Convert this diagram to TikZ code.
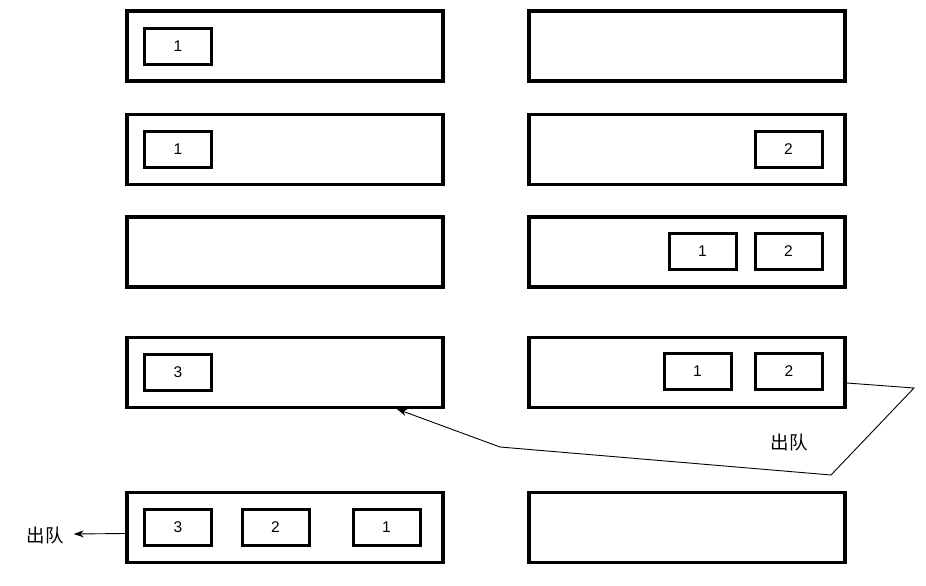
\documentclass[tikz,border=0pt]{standalone}
\usepackage{fontspec}
\setmainfont{Liberation Sans}
\newfontfamily\cjk{Noto Sans CJK SC}
\usetikzlibrary{arrows.meta}
\begin{document}
\begin{tikzpicture}[x=1pt,y=-1pt,
  outerbox/.style={draw,line width=3.2pt,minimum width=316pt,minimum height=70pt,inner sep=0pt},
  innerbox/.style={draw,line width=3pt,minimum width=67pt,minimum height=36pt,inner sep=0pt,font=\fontsize{15.5}{17}\selectfont},
  cnlabel/.style={font=\cjk\fontsize{18.5}{20}\selectfont,inner sep=0pt},
  conn/.style={line width=0.9pt,-{Stealth[length=10pt,width=7pt]}}]
\useasboundingbox (0,0) rectangle (926,586);
% left column
\node[outerbox] (L1) at (285,46) {};
\node[outerbox] (L2) at (285,149.5) {};
\node[outerbox] (L3) at (285,252) {};
\node[outerbox] (L4) at (285,372.5) {};
\node[outerbox] (L5) at (285,527.5) {};
% right column
\node[outerbox] (R1) at (687,46) {};
\node[outerbox] (R2) at (687,149.5) {};
\node[outerbox] (R3) at (687,252) {};
\node[outerbox] (R4) at (687,372.5) {};
\node[outerbox] (R5) at (687,527.5) {};
% inner boxes
\node[innerbox] (a1) at (178,46.5) {1};
\node[innerbox] (a2) at (178,149) {1};
\node[innerbox] (b2) at (788.5,149) {2};
\node[innerbox] (c1) at (702.5,251.5) {1};
\node[innerbox] (c2) at (788.5,251.5) {2};
\node[innerbox] (d3) at (178,372) {3};
\node[innerbox] (e1) at (697.5,371.5) {1};
\node[innerbox] (e2) at (789,371.5) {2};
\node[innerbox] (f3) at (178,527.5) {3};
\node[innerbox] (f2) at (275.5,527.5) {2};
\node[innerbox] (f1) at (386.5,527.5) {1};
% labels
\node[cnlabel] (q1) at (789,442.5) {出队};
\node[cnlabel] (q2) at (45,535) {出队};
% connectors
\coordinate (p1) at (914,388);
\coordinate (p2) at (831,475);
\coordinate (p3) at (500,447);
\draw[conn] ([yshift=-10.5pt]R4.east) -- (p1) -- (p2) -- (p3) -- ([xshift=112pt]L4.south);
\draw[conn] ([yshift=-6pt]L5.west) -- ([xshift=10pt,yshift=1pt]q2.east);
\end{tikzpicture}
\end{document}
